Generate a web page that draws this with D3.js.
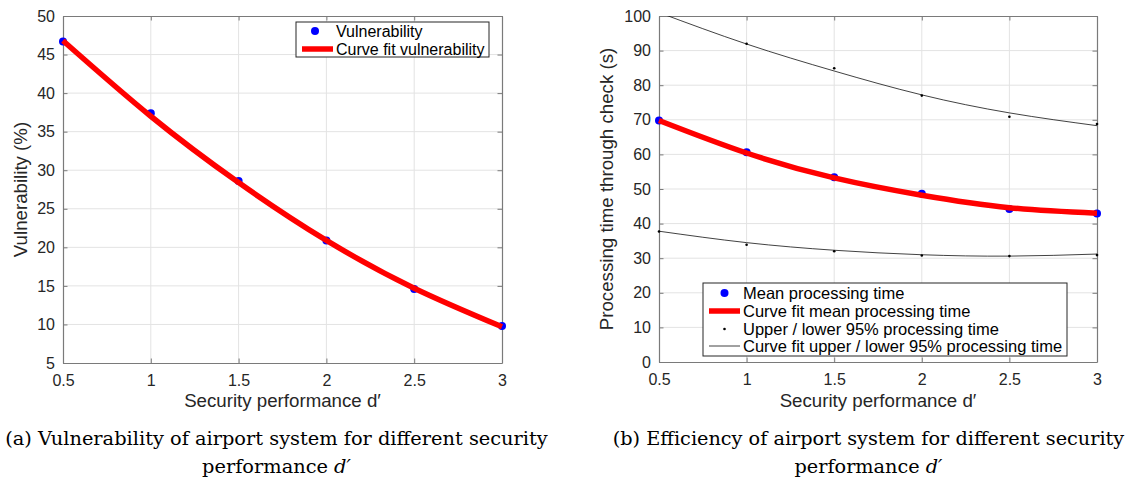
<!DOCTYPE html>
<html><head><meta charset="utf-8">
<script src="https://cdn.jsdelivr.net/npm/d3@7"></script>
<style>
html,body{margin:0;padding:0;background:#fff;}
svg{display:block;}
</style></head>
<body>
<svg id="chart" width="1128" height="482"></svg>
<script>
// ---- data ----
const dPrime = [0.5, 1, 1.5, 2, 2.5, 3];
const xTickLabels = ["0.5", "1", "1.5", "2", "2.5", "3"];
const vulnerability = [46.7, 37.4, 28.6, 20.9, 14.6, 9.8];
const vulnerabilityFit = [46.8, 37.0, 28.4, 20.9, 14.7, 9.7];
const leftYTicks = [5, 10, 15, 20, 25, 30, 35, 40, 45, 50];
const meanTime = [69.8, 60.6, 53.4, 48.6, 44.2, 42.9];
const meanTimeFit = [69.8, 60.4, 53.2, 48.2, 44.6, 43.0];
const upperTime = [100.8, 92.0, 84.9, 77.0, 70.9, 68.8];
const upperTimeFit = [101.0, 91.9, 84.1, 77.2, 72.0, 68.3];
const lowerTime = [37.7, 33.9, 32.0, 30.8, 30.6, 30.9];
const lowerTimeFit = [37.8, 34.5, 32.3, 31.0, 30.6, 31.2];
const rightYTicks = [0, 10, 20, 30, 40, 50, 60, 70, 80, 90, 100];

const svg = d3.select("#chart");
const FONT = "'Liberation Sans', Arial, Helvetica, sans-serif";
const TXT = "#262626";
const AXC = "#7a7a7a";

function panel(cfg) {
  const x = d3.scaleLinear().domain([0.5, 3]).range([cfg.x0, cfg.x1]);
  const y = d3.scaleLinear().domain(cfg.yDomain).range([cfg.y1, cfg.y0]);
  const g = svg.append("g");
  const clipId = "clip" + cfg.id;
  svg.append("clipPath").attr("id", clipId).append("rect")
    .attr("x", cfg.x0).attr("y", cfg.y0).attr("width", cfg.x1 - cfg.x0).attr("height", cfg.y1 - cfg.y0);
  // grid
  g.append("g").selectAll("line").data(dPrime.slice(1, -1)).join("line")
    .attr("x1", d => x(d)).attr("x2", d => x(d)).attr("y1", cfg.y0).attr("y2", cfg.y1)
    .attr("stroke", "#e3e3e3").attr("stroke-width", 1);
  g.append("g").selectAll("line").data(cfg.yTicks.slice(1, -1)).join("line")
    .attr("y1", d => y(d)).attr("y2", d => y(d)).attr("x1", cfg.x0).attr("x2", cfg.x1)
    .attr("stroke", "#e3e3e3").attr("stroke-width", 1);
  // axes with inner ticks
  const tl = 4.5;
  const bottom = g.append("g").attr("transform", `translate(0,${cfg.y1})`)
    .call(d3.axisBottom(x).tickValues(dPrime).tickFormat((d, i) => xTickLabels[i]).tickSizeInner(-tl).tickSizeOuter(0).tickPadding(12));
  const top = g.append("g").attr("transform", `translate(0,${cfg.y0})`)
    .call(d3.axisTop(x).tickValues(dPrime).tickFormat("").tickSizeInner(-tl).tickSizeOuter(0));
  const left = g.append("g").attr("transform", `translate(${cfg.x0},0)`)
    .call(d3.axisLeft(y).tickValues(cfg.yTicks).tickFormat(d3.format("d")).tickSizeInner(-tl).tickSizeOuter(0).tickPadding(8));
  const right = g.append("g").attr("transform", `translate(${cfg.x1},0)`)
    .call(d3.axisRight(y).tickValues(cfg.yTicks).tickFormat("").tickSizeInner(-tl).tickSizeOuter(0));
  [bottom, top, left, right].forEach(a => {
    a.select(".domain").attr("stroke", AXC).attr("stroke-width", 1.2);
    a.selectAll(".tick line").attr("stroke", AXC);
    a.selectAll("text").attr("fill", TXT).attr("font-family", FONT).attr("font-size", 16);
  });
  // axis labels
  g.append("text").attr("x", (cfg.x0 + cfg.x1) / 2).attr("y", 406.5)
    .attr("text-anchor", "middle").attr("font-family", FONT).attr("font-size", 18.7).attr("fill", TXT)
    .text("Security performance d\u2032");
  g.append("text").attr("transform", `translate(${cfg.yLabelX},${(cfg.y0 + cfg.y1) / 2}) rotate(-90)`)
    .attr("text-anchor", "middle").attr("font-family", FONT).attr("font-size", 18.7).attr("fill", TXT)
    .text(cfg.yLabel);
  const plot = g.append("g").attr("clip-path", `url(#${clipId})`);
  const marks = g.append("g");
  const inside = v => v >= cfg.yDomain[0] && v <= cfg.yDomain[1];
  return { x, y, plot, marks, g, inside };
}

const line = (x, y) => d3.line().x((d, i) => x(dPrime[i])).y(d => y(d)).curve(d3.curveNatural);

// ---- left panel ----
{
  const { x, y, plot, marks, g } = panel({ id: "a", x0: 63, x1: 502, y0: 16, y1: 363, yDomain: [5, 50], yTicks: leftYTicks, yLabel: "Vulnerability (%)", yLabelX: 27 });
  marks.append("g").selectAll("circle").data(vulnerability).join("circle")
    .attr("cx", (d, i) => x(dPrime[i])).attr("cy", d => y(d)).attr("r", 4).attr("fill", "#0000ff");
  marks.append("path").datum(vulnerabilityFit).attr("d", line(x, y)).attr("fill", "none")
    .attr("stroke", "#ff0000").attr("stroke-width", 5.5);
  // legend
  const L = g.append("g");
  L.append("rect").attr("x", 296).attr("y", 22).attr("width", 193).attr("height", 35)
    .attr("fill", "#fff").attr("stroke", "#262626").attr("stroke-width", 1);
  L.append("circle").attr("cx", 315).attr("cy", 31).attr("r", 4).attr("fill", "#0000ff");
  L.append("line").attr("x1", 302).attr("x2", 333).attr("y1", 49).attr("y2", 49).attr("stroke", "#ff0000").attr("stroke-width", 5.5);
  [["Vulnerability", 31], ["Curve fit vulnerability", 49]].forEach(([t, yy]) =>
    L.append("text").attr("x", 336).attr("y", yy).attr("dy", "0.35em").attr("font-family", FONT).attr("font-size", 16).attr("fill", "#000").text(t));
}

// ---- right panel ----
{
  const { x, y, plot, marks, g, inside } = panel({ id: "b", x0: 659, x1: 1097, y0: 16, y1: 362, yDomain: [0, 100], yTicks: rightYTicks, yLabel: "Processing time through check (s)", yLabelX: 613 });
  [upperTimeFit, lowerTimeFit].forEach(arr =>
    plot.append("path").datum(arr).attr("d", line(x, y)).attr("fill", "none").attr("stroke", "#111").attr("stroke-width", 0.8));
  [upperTime, lowerTime].forEach(arr =>
    marks.append("g").selectAll("circle").data(arr.map((v, i) => [dPrime[i], v]).filter(p => inside(p[1]))).join("circle")
      .attr("cx", p => x(p[0])).attr("cy", p => y(p[1])).attr("r", 1.3).attr("fill", "#000"));
  marks.append("g").selectAll("circle").data(meanTime).join("circle")
    .attr("cx", (d, i) => x(dPrime[i])).attr("cy", d => y(d)).attr("r", 4).attr("fill", "#0000ff");
  marks.append("path").datum(meanTimeFit).attr("d", line(x, y)).attr("fill", "none")
    .attr("stroke", "#ff0000").attr("stroke-width", 5.5);
  // legend
  const L = g.append("g");
  L.append("rect").attr("x", 703).attr("y", 283).attr("width", 364).attr("height", 73)
    .attr("fill", "#fff").attr("stroke", "#262626").attr("stroke-width", 1);
  const ys = [293, 311, 329, 346];
  L.append("circle").attr("cx", 724.5).attr("cy", ys[0]).attr("r", 4).attr("fill", "#0000ff");
  L.append("line").attr("x1", 709).attr("x2", 740).attr("y1", ys[1]).attr("y2", ys[1]).attr("stroke", "#ff0000").attr("stroke-width", 5.5);
  L.append("circle").attr("cx", 724.5).attr("cy", ys[2]).attr("r", 1.3).attr("fill", "#000");
  L.append("line").attr("x1", 709).attr("x2", 740).attr("y1", ys[3]).attr("y2", ys[3]).attr("stroke", "#111").attr("stroke-width", 0.8);
  ["Mean processing time", "Curve fit mean processing time", "Upper / lower 95% processing time", "Curve fit upper / lower 95% processing time"]
    .forEach((t, i) => L.append("text").attr("x", 743).attr("y", ys[i]).attr("dy", "0.35em").attr("font-family", FONT).attr("font-size", 16.5).attr("fill", "#000").text(t));
}

// ---- captions ----
const SERIF = "'DejaVu Serif', 'Liberation Serif', serif";
function caption(cx, line1, width) {
  const t1 = svg.append("text").attr("x", cx).attr("y", 445).attr("text-anchor", "middle")
    .attr("font-family", SERIF).attr("font-size", 16).attr("fill", "#000").text(line1);
  const w = t1.node().getComputedTextLength();
  const fs = 16 * width / w;
  t1.attr("font-size", fs);
  const t2 = svg.append("text").attr("x", cx).attr("y", 473).attr("text-anchor", "middle")
    .attr("font-family", SERIF).attr("font-size", fs).attr("fill", "#000");
  t2.append("tspan").text("performance ");
  t2.append("tspan").attr("font-style", "italic").text("d\u2032");
}
caption(276.5, "(a) Vulnerability of airport system for different security", 543);
caption(868.5, "(b) Efficiency of airport system for different security", 512);
</script>
</body></html>
